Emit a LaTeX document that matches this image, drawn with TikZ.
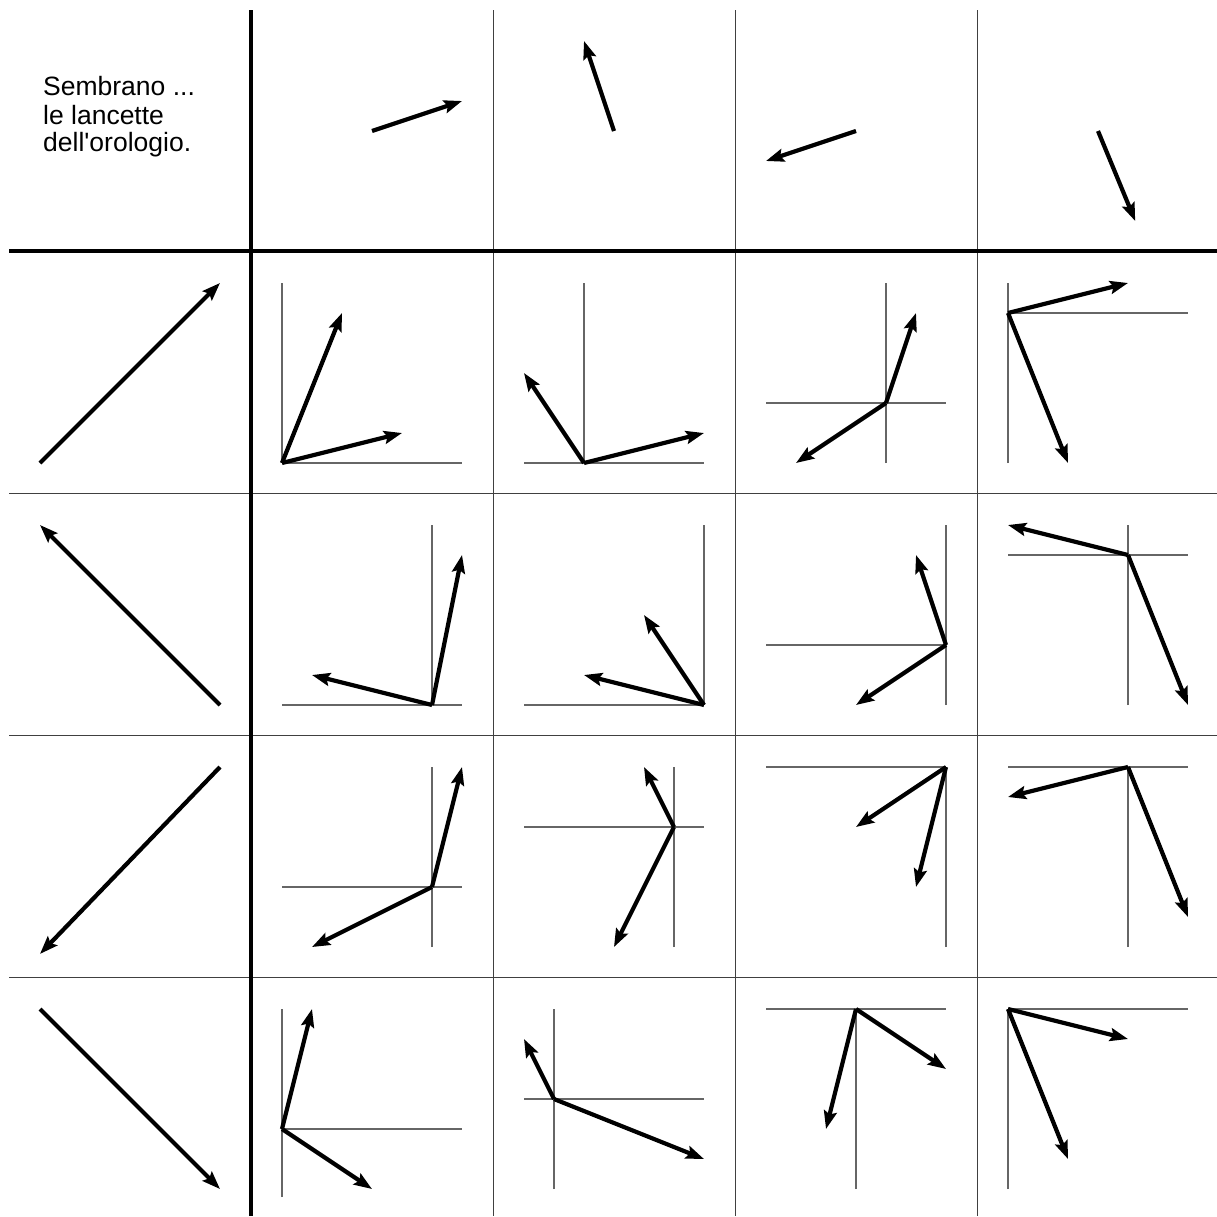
\documentclass[tikz,border=0pt]{standalone}
\usepackage{fontspec}
\newfontfamily\capfont{Liberation Sans}
\usetikzlibrary{arrows.meta}
\tikzset{
  thingrid/.style={line width=1.2pt, black!75},
  thickgrid/.style={line width=4.4pt, black},
  axisline/.style={line width=1.1pt, black!60},
  hand/.style={line width=4.2pt, -{Stealth[length=18pt,width=13pt,inset=3pt]}},
  cell/.style 2 args={shift={(40+242*#1,221+242*#2)},x=30pt,y=30pt},
  caption/.style={anchor=base west, inner sep=0pt, font=\capfont\fontsize{26.5}{28}\selectfont},
}
\newcommand\handcell[6]{%
  \begin{scope}[cell={#1}{#2}]
    \coordinate (o#2#1) at (#3,#4);
    \draw[axisline] (#3,0) -- (#3,6);
    \draw[axisline] (0,#4) -- (6,#4);
    \draw[hand] (o#2#1) -- #5;
    \draw[hand] (o#2#1) -- #6;
  \end{scope}}
\begin{document}
\begin{tikzpicture}[x=1pt,y=-1pt]
\useasboundingbox (0,0) rectangle (1217,1216);
\fill[white] (0,0) rectangle (1217,1216);
% grid
\foreach \p in {493.5,735.5,977.5} {
  \draw[thingrid] (\p,10) -- (\p,1216);
  \draw[thingrid] (9,\p) -- (1217,\p);
}
\draw[thickgrid] (251,10) -- (251,1216);
\draw[thickgrid] (9,251) -- (1217,251);
% caption
\node[caption] (cap1) at (43,95.7) {Sembrano ...};
\node[caption] (cap2) at (43,124) {le lancette};
\node[caption] (cap3) at (43,151.7) {dell'orologio.};
% top row hands
\begin{scope}[cell={1}{0}]
  \coordinate (t1) at (3,3); \draw[hand] (t1) -- (6,4);
\end{scope}
\begin{scope}[cell={2}{0}]
  \coordinate (t2) at (3,3); \draw[hand] (t2) -- (2,6);
\end{scope}
\begin{scope}[cell={3}{0}]
  \coordinate (t3) at (3,3); \draw[hand] (t3) -- (0,2);
\end{scope}
\begin{scope}[cell={4}{0}]
  \coordinate (t4) at (3,3); \draw[hand] (t4) -- (4.24,0);
\end{scope}
% left column hands
\begin{scope}[cell={0}{1}]
  \coordinate (l1) at (0,0); \draw[hand] (l1) -- (6,6);
\end{scope}
\begin{scope}[cell={0}{2}]
  \coordinate (l2) at (6,0); \draw[hand] (l2) -- (0,6);
\end{scope}
\begin{scope}[cell={0}{3}]
  \coordinate (l3) at (6,6); \draw[hand] (l3) -- (0,-0.23);
\end{scope}
\begin{scope}[cell={0}{4}]
  \coordinate (l4) at (0,6); \draw[hand] (l4) -- (6,0);
\end{scope}
% inner cells
\handcell{1}{1}{0}{0}{(2,5)}{(4,1)}
\handcell{2}{1}{2}{0}{(0,3)}{(6,1)}
\handcell{3}{1}{4}{2}{(5,5)}{(1,0)}
\handcell{4}{1}{0}{5}{(4,6)}{(2,0)}
\handcell{1}{2}{5}{0}{(6,5)}{(1,1)}
\handcell{2}{2}{6}{0}{(4,3)}{(2,1)}
\handcell{3}{2}{6}{2}{(5,5)}{(3,0)}
\handcell{4}{2}{4}{5}{(0,6)}{(6,0)}
\handcell{1}{3}{5}{2}{(6,6)}{(1,0)}
\handcell{2}{3}{5}{4}{(4,6)}{(3,0)}
\handcell{3}{3}{6}{6}{(3,4)}{(5,2)}
\handcell{4}{3}{4}{6}{(0,5)}{(6,1)}
\begin{scope}[cell={1}{4}]
  \coordinate (o41) at (0,2);
  \draw[axisline] (0,-0.27) -- (0,6);
  \draw[axisline] (0,2) -- (6,2);
  \draw[hand] (o41) -- (1,6);
  \draw[hand] (o41) -- (3,0);
\end{scope}
\handcell{2}{4}{1}{3}{(0,5)}{(6,1)}
\handcell{3}{4}{3}{6}{(2,2)}{(6,4)}
\handcell{4}{4}{0}{6}{(4,5)}{(2,1)}
\end{tikzpicture}
\end{document}
